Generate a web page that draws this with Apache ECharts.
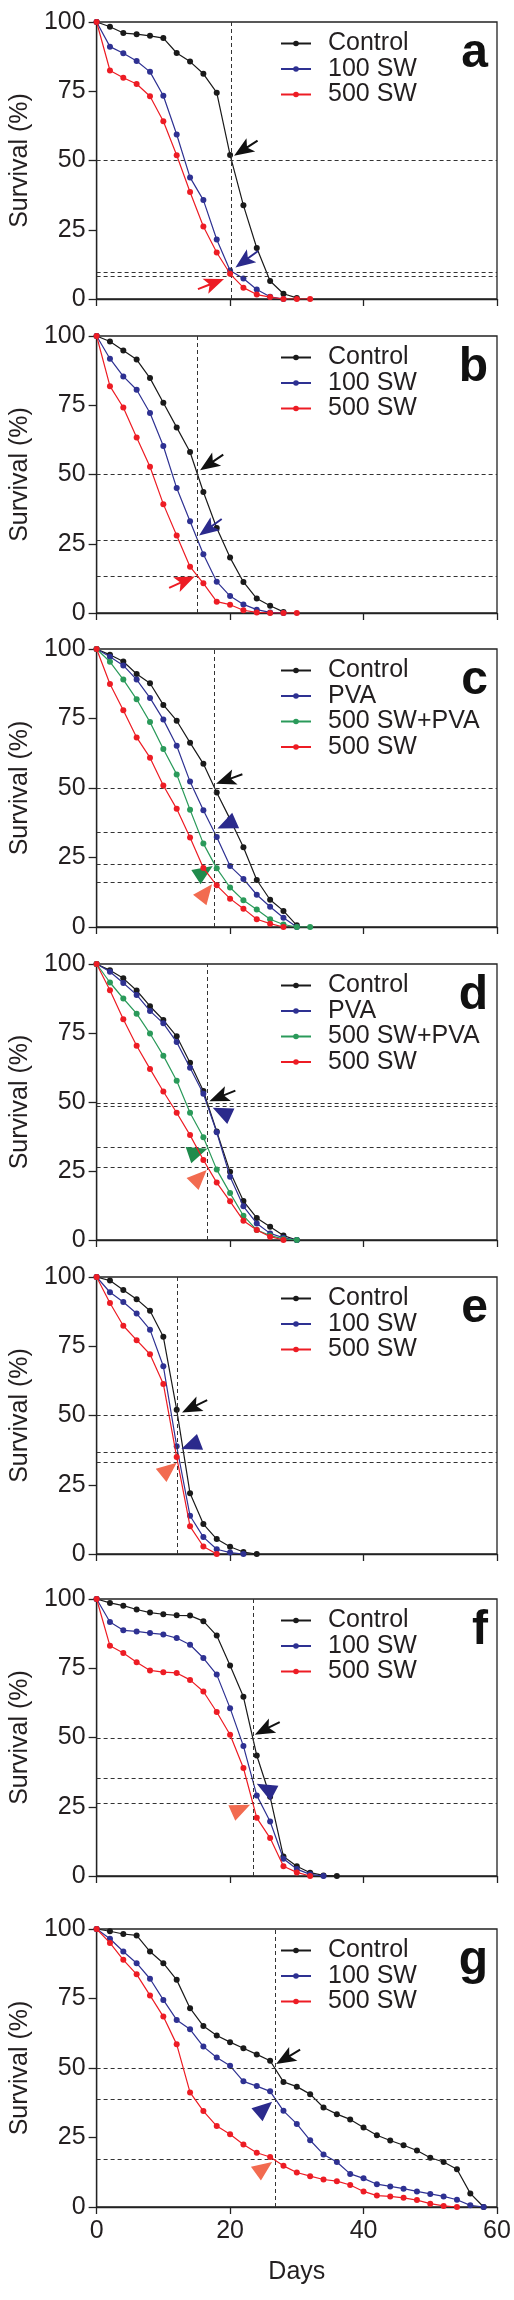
<!DOCTYPE html>
<html><head><meta charset="utf-8">
<script src="https://cdn.jsdelivr.net/npm/echarts@6/dist/echarts.min.js"></script>
<style>html,body{margin:0;padding:0;background:#fff}#c{width:514px;height:2300px}</style>
</head><body><div id="c"></div>
<script>
// ---------- DATA ----------
const days = [0,2,4,6,8,10,12,14,16,18,20,22,24,26,28,30,32,34,36,38,40,42,44,46,48,50,52,54,56,58];
const yTickValues = [0,25,50,75,100];
const xTickValues = [0,20,40,60];
const panelLetters = ['a','b','c','d','e','f','g'];

const namesABEFG = ['Control','100 SW','500 SW'];
const namesCD = ['Control','PVA','500 SW+PVA','500 SW'];

// panel a
const aControl = [100,98.3,96.0,95.6,95.0,94.2,88.8,85.7,81.3,74.5,52.0,33.8,18.4,6.5,1.9,0.4];
const aSW100   = [100,91.1,88.7,85.9,82.0,73.4,59.4,43.9,35.7,21.5,10.3,7.4,3.4,0.8,0];
const aSW500   = [100,82.5,79.9,77.6,73.2,64.2,51.9,38.6,26.2,16.8,9.1,4.1,1.6,0.7,0,0,0];
const aHLines = [50,9.7,8.3];
const aVLine = 20.2;
const aArrows = [[20.6,51.7],[20.8,11.4],[19.1,7.2]];

// panel b
const bControl = [100,98.0,94.8,91.5,84.8,75.9,67.0,58.1,43.7,30.7,20.0,11.2,5.2,2.6,0.4];
const bSW100   = [100,91.8,85.4,80.6,72.2,60.3,45.1,33.1,21.2,11.3,6.1,3.1,1.2,0.2,0];
const bSW500   = [100,81.9,74.2,63.4,52.8,39.3,28.0,16.7,10.7,4.1,3.0,1.0,0.2,0,0,0];
const bHLines = [50,26.2,13.2];
const bVLine = 15.1;
const bArrows = [[15.5,51.5],[15.35,28.0],[14.7,13.2]];

// panel c
const cControl = [100,97.9,95.5,91.0,87.7,79.9,74.2,66.3,58.7,48.4,38.8,28.7,16.9,9.8,5.8,0.6];
const cPVA     = [100,97.2,94.1,89.0,82.4,74.6,65.2,52.3,42.0,32.4,21.9,17.3,11.6,7.3,3.3,0];
const cSWPVA   = [100,95.4,89.0,81.9,73.7,64.0,54.9,42.2,30.0,21.1,14.2,9.6,6.3,2.8,0.9,0,0];
const cSW500   = [100,87.4,78.0,68.2,60.9,50.9,42.5,32.2,21.2,15.0,10.2,6.6,2.8,1.2,0];
const cHLines = [50,34.1,22.6,16.1];
const cVLine = 17.65;
const cArrows = [[17.9,51.5],[18.1,35.4],[17.4,21.9],[17.3,15.4]];

// panel d
const dControl = [100,97.7,94.8,90.4,84.7,79.7,73.8,64.2,54.0,39.3,24.7,14.1,8.0,4.8,1.6,0];
const dPVA     = [100,97.2,93.1,88.8,83.0,78.5,71.7,62.4,53.0,39.0,22.9,12.2,6.0,2.4,0.8,0];
const dSWPVA   = [100,93.3,87.5,82.0,74.8,66.8,57.7,46.1,37.2,25.5,17.0,8.8,3.6,1.6,0.4,0];
const dSW500   = [100,90.5,80.0,70.4,62.0,53.8,46.1,38.0,29.0,20.8,14.0,7.0,3.6,1.2,0];
const dHLines = [49.6,48.5,33.6,26.4];
const dVLine = 16.6;
const dArrows = [[16.9,50.3],[17.4,47.9],[16.6,33.1],[16.5,25.4]];

// panel e
const eControl = [100,98.7,95.3,92.0,87.8,78.4,52.1,21.9,10.8,5.4,2.6,0.7,0];
const eSW100   = [100,94.5,91.0,86.8,81.0,67.8,38.9,13.8,6.1,1.7,0.5,0];
const eSW500   = [100,90.6,82.4,77.2,72.1,61.4,35.0,10.0,2.7,0];
const eHLines = [50,36.9,33.3];
const eVLine = 12.1;
const eArrows = [[12.8,51.1],[12.7,37.9],[12.0,32.9]];

// panel f
const fControl = [100,98.6,97.6,96.2,95.1,94.5,94.1,94.0,92.0,86.8,76.0,64.7,43.5,28.6,7.0,3.5,1.2,0.2,0];
const fSW100   = [100,91.7,88.7,88.3,87.7,87.2,85.9,83.5,78.7,72.7,60.6,46.9,29.1,19.7,6.2,2.5,0.6,0];
const fSW500   = [100,83.1,80.5,77.2,74.2,73.6,73.3,70.8,66.6,59.2,51.0,39.0,21.0,13.7,3.5,1.3,0];
const fHLines = [49.6,35.4,26.4];
const fVLine = 23.4;
const fArrows = [[23.7,51.0],[24.0,33.3],[23.0,25.7]];

// panel g
const gControl = [100,99.2,98.2,97.7,91.9,87.7,81.7,71.5,65.1,61.7,59.3,57.1,54.9,52.6,45.0,43.3,40.6,35.8,33.4,31.5,28.6,25.8,23.9,22.2,20.3,17.7,16.2,13.6,4.9,0];
const gSW100   = [100,96.5,91.9,87.7,82.1,74.5,67.3,63.9,57.7,53.8,50.8,45.2,43.5,41.6,34.6,29.9,24.0,18.9,16.2,11.9,10.3,8.2,7.4,6.6,5.6,4.7,3.8,2.6,0.6,0];
const gSW500   = [100,95.0,88.9,83.7,76.1,68.5,58.5,41.2,34.5,29.1,26.2,22.5,19.5,18.0,14.8,12.4,11.1,9.9,9.3,7.9,5.6,4.1,3.8,3.3,2.5,1.2,0.4,0];
const gHLines = [50,38.8,17.1];
const gVLine = 26.7;
const gArrows = [[26.9,51.4],[26.3,37.9],[26.3,16.2]];

// ---------- STYLE ----------
const FONT = '"Liberation Sans", Arial, sans-serif';
const TXT = '#231f20';
const lineColors = {'Control':'#1a1a1a','100 SW':'#2e3192','PVA':'#2e3192','500 SW+PVA':'#2a9a5a','500 SW':'#ed1c24'};
const arrowColors = {black:'#111111', navy:'#2b2a8c', green:'#1f8b4c', red:'#ed1c24', orange:'#f26b50'};
const TAIL = 'path://M0,0L8,20L1,16L1,28L-1,28L-1,16L-8,20ZM0,-28L0.01,-28Z';
const TRI = 'path://M0,0L8.5,20L-8.5,20ZM0,-20L0.01,-20Z';
const arrowLooks = [
  [['black',123,'tail'],['navy',126,'tail'],['red',-69,'tail']],
  [['black',124,'tail'],['navy',126,'tail'],['red',-66,'tail']],
  [['black',110,'tail'],['navy',114,'tri'],['green',-57,'tri'],['orange',-38,'tri']],
  [['black',112,'tail'],['navy',65,'tri'],['green',-71,'tri'],['orange',-45,'tri']],
  [['black',116,'tail'],['navy',111,'tri'],['orange',-51,'tri']],
  [['black',117,'tail'],['navy',62,'tri'],['orange',-66,'tri']],
  [['black',121,'tail'],['navy',-49,'tri'],['orange',-54,'tri']]
];

const panels = [
  {names:namesABEFG, values:[aControl,aSW100,aSW500], h:aHLines, v:aVLine, arrows:aArrows},
  {names:namesABEFG, values:[bControl,bSW100,bSW500], h:bHLines, v:bVLine, arrows:bArrows},
  {names:namesCD, values:[cControl,cPVA,cSWPVA,cSW500], h:cHLines, v:cVLine, arrows:cArrows},
  {names:namesCD, values:[dControl,dPVA,dSWPVA,dSW500], h:dHLines, v:dVLine, arrows:dArrows},
  {names:namesABEFG, values:[eControl,eSW100,eSW500], h:eHLines, v:eVLine, arrows:eArrows},
  {names:namesABEFG, values:[fControl,fSW100,fSW500], h:fHLines, v:fVLine, arrows:fArrows},
  {names:namesABEFG, values:[gControl,gSW100,gSW500], h:gHLines, v:gVLine, arrows:gArrows}
];
const gridTops = [22,336,649,964,1277,1599,1929];
const gridHeights = [277,277,278,276,277,277,278];

const grids=[], xAxes=[], yAxes=[], series=[], legends=[], titles=[];
panels.forEach((p, i) => {
  const T = gridTops[i];
  grids.push({left:81, top:T, width:416, height:gridHeights[i], show:true, borderColor:'#222', borderWidth:1.3, backgroundColor:'transparent'});
  const last = i === panels.length - 1;
  xAxes.push({
    gridIndex:i, type:'value', min:xTickValues[0], max:xTickValues[xTickValues.length-1], interval:20,
    axisLine:{show:true, onZero:false, lineStyle:{color:'#222', width:1.3}},
    axisTick:{show:true, length:7, lineStyle:{color:'#222', width:1.3}},
    axisLabel:{show:last, fontSize:25, color:TXT, margin:12, fontFamily:FONT},
    splitLine:{show:false},
    name: last ? 'Days' : '', nameLocation:'middle', nameGap:53,
    nameTextStyle:{fontSize:25, color:TXT, fontFamily:FONT}
  });
  yAxes.push({
    gridIndex:i, type:'value', min:yTickValues[0], max:yTickValues[yTickValues.length-1], interval:25,
    axisLine:{show:true, lineStyle:{color:'#222', width:1.3}},
    axisTick:{show:true, length:8, lineStyle:{color:'#222', width:1.3}},
    axisLabel:{fontSize:25, color:TXT, margin:11, fontFamily:FONT},
    splitLine:{show:false},
    name:'Survival (%)', nameLocation:'middle', nameGap:47,
    nameTextStyle:{fontSize:25, color:TXT, fontFamily:FONT}
  });
  p.names.forEach((nm, k) => {
    const s = {
      name:nm, type:'line', xAxisIndex:i, yAxisIndex:i,
      data:p.values[k].map((v, j) => [days[j], v]),
      symbol:'circle', symbolSize:6, showSymbol:true,
      lineStyle:{color:lineColors[nm], width:1.2},
      itemStyle:{color:lineColors[nm]},
      z: 3 + k
    };
    if (k === 0) {
      s.markLine = {
        silent:true, symbol:['none','none'], label:{show:false}, animation:false,
        lineStyle:{type:[4,3], color:'#333', width:1},
        emphasis:{disabled:true},
        data: p.h.map(y => ({yAxis:y})).concat([{xAxis:p.v}])
      };
      s.markPoint = {
        silent:true, label:{show:false}, animation:false,
        data: p.arrows.map((a, m) => {
          const look = arrowLooks[i][m];
          return {
            coord:a,
            symbol: look[2] === 'tail' ? TAIL : TRI,
            symbolSize: look[2] === 'tail' ? [16,56] : [17,40],
            symbolRotate: look[1],
            itemStyle:{color:arrowColors[look[0]]}
          };
        })
      };
    }
    series.push(s);
  });
  legends.push({
    left:280, top:T+9, orient:'vertical', padding:0, itemGap:0.5,
    itemWidth:30, itemHeight:7, selectedMode:false,
    data:p.names,
    textStyle:{fontSize:25, color:TXT, fontFamily:FONT, lineHeight:24, padding:[0,0,0,12]}
  });
  titles.push({
    text:panelLetters[i], right:26, top:T+8, padding:0,
    textStyle:{fontSize:48, fontWeight:'bold', color:'#111', fontFamily:FONT}
  });
});

const chart = echarts.init(document.getElementById('c'), null, {renderer:'canvas'});
chart.setOption({
  animation:false,
  backgroundColor:'#fff',
  title:titles, legend:legends, grid:grids, xAxis:xAxes, yAxis:yAxes, series:series
});
</script>
</body></html>
